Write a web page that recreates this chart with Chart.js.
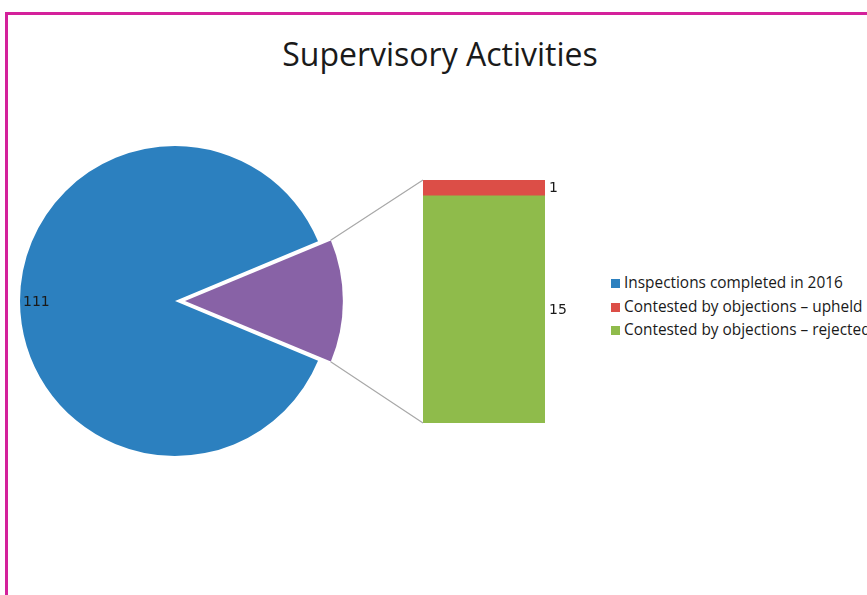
<!DOCTYPE html>
<html>
<head>
<meta charset="utf-8">
<script src="https://cdn.jsdelivr.net/npm/chart.js@4.4.1/dist/chart.umd.min.js"></script>
<style>
  html, body { margin: 0; padding: 0; background: #ffffff; width: 867px; height: 595px; overflow: hidden; }
  #frame { position: absolute; left: 5px; top: 12px; width: 900px; height: 620px;
           border-left: 3px solid #d4219b; border-top: 3px solid #d4219b; }
  #title { position: absolute; left: 0; top: 32px; width: 880px; text-align: center;
           font-family: "Open Sans", sans-serif; font-size: 32px; color: #1a1a1a; }
  #pieWrap { position: absolute; left: 0; top: 131px; width: 350px; height: 340px; }
  #barWrap { position: absolute; left: 320px; top: 150px; width: 280px; height: 300px; }
  #legend { position: absolute; left: 611px; top: 271px; font-family: "Open Sans", sans-serif;
            font-size: 15.4px; color: #1a1a1a; }
  #legend div { height: 23.5px; line-height: 23.5px; white-space: nowrap; }
  #legend span { display: inline-block; width: 9px; height: 9px; margin-right: 4px; vertical-align: 0px; }
</style>
</head>
<body>
<div id="frame"></div>
<div id="title"></div>
<div id="pieWrap"><canvas id="pie" width="350" height="340"></canvas></div>
<div id="barWrap"><canvas id="bar" width="280" height="300"></canvas></div>
<div id="legend"></div>
<script>
const chartTitle = "Supervisory Activities";

// Pie: completed inspections and the contested ones (exploded slice)
const pieLabels = ["Inspections completed in 2016", "Contested by objections"];
const pieValues = [111, 16];
const pieColors = ["#2c80bf", "#8862a6"];

// Bar: breakdown of the contested slice
const barLabels = ["Contested by objections – upheld", "Contested by objections – rejected"];
const barValues = [1, 15];
const barColors = ["#dc4e47", "#8fbb4b"];

const labelFont = '14px "DejaVu Sans", sans-serif';
const sliceOffset = 40; // Chart.js moves an arc by offset / 4

document.getElementById("title").textContent = chartTitle;

// Legend entries: first pie slice + the two bar segments
const legendItems = [
  { text: pieLabels[0], color: pieColors[0] },
  { text: barLabels[0], color: barColors[0] },
  { text: barLabels[1], color: barColors[1] }
];
const legendEl = document.getElementById("legend");
legendItems.forEach(it => {
  const row = document.createElement("div");
  const sw = document.createElement("span");
  sw.style.background = it.color;
  row.appendChild(sw);
  row.appendChild(document.createTextNode(it.text));
  legendEl.appendChild(row);
});

const total = pieValues.reduce((a, b) => a + b, 0);
const secondSpan = pieValues[1] / total * 360;
// First slice starts where the second one ends, so the second is centred at 3 o'clock
const startDeg = secondSpan / 2;

const pieLabelPlugin = {
  id: "pieLabel",
  afterDatasetsDraw(chart) {
    const arc = chart.getDatasetMeta(0).data[0];
    const ctx = chart.ctx;
    ctx.save();
    ctx.font = labelFont;
    ctx.fillStyle = "#1a1a1a";
    ctx.textAlign = "left";
    ctx.textBaseline = "middle";
    ctx.fillText(String(pieValues[0]), arc.x - arc.outerRadius + 3, arc.y + 1);
    ctx.restore();
  }
};

const pieChart = new Chart(document.getElementById("pie"), {
  type: "pie",
  data: {
    labels: pieLabels,
    datasets: [{
      data: pieValues,
      backgroundColor: pieColors,
      borderWidth: 0,
      offset: [0, sliceOffset]
    }]
  },
  options: {
    responsive: false,
    animation: false,
    rotation: startDeg + 90,
    radius: 155,
    layout: { padding: 0 },
    plugins: { legend: { display: false }, tooltip: { enabled: false } }
  },
  plugins: [pieLabelPlugin]
});

// Connector lines from the exploded slice to the bar, plus segment value labels
const barDecorPlugin = {
  id: "barDecor",
  afterDatasetsDraw(chart) {
    const ctx = chart.ctx;
    const top = chart.getDatasetMeta(0).data[0];
    const bottomEl = chart.getDatasetMeta(1).data[0];
    const arc = pieChart.getDatasetMeta(0).data[1];
    const pr = pieChart.canvas.getBoundingClientRect();
    const br = chart.canvas.getBoundingClientRect();
    const dx = pr.left - br.left, dy = pr.top - br.top;
    const mid = (arc.startAngle + arc.endAngle) / 2;
    const shift = sliceOffset / 4;
    const fix = 1 - Math.sin(Math.min(Math.PI, arc.circumference));
    const cx = arc.x + Math.cos(mid) * shift + dx;
    const cy = arc.y + Math.sin(mid) * shift + dy;
    const r = arc.outerRadius + shift * fix;
    const p1 = [cx + Math.cos(arc.startAngle) * r, cy + Math.sin(arc.startAngle) * r];
    const p2 = [cx + Math.cos(arc.endAngle) * r, cy + Math.sin(arc.endAngle) * r];
    const left = top.x - top.width / 2;
    const right = top.x + top.width / 2;
    const barTop = Math.min(top.y, top.base, bottomEl.y, bottomEl.base);
    const barBottom = Math.max(top.y, top.base, bottomEl.y, bottomEl.base);
    ctx.save();
    ctx.strokeStyle = "#a8a8a8";
    ctx.lineWidth = 1.2;
    ctx.beginPath();
    ctx.moveTo(p1[0], p1[1]); ctx.lineTo(left, barTop);
    ctx.moveTo(p2[0], p2[1]); ctx.lineTo(left, barBottom);
    ctx.stroke();
    ctx.font = labelFont;
    ctx.fillStyle = "#1a1a1a";
    ctx.textAlign = "left";
    ctx.textBaseline = "middle";
    [0, 1].forEach(i => {
      const el = chart.getDatasetMeta(i).data[0];
      ctx.fillText(String(barValues[i]), right + 4, (el.y + el.base) / 2 + 1);
    });
    ctx.restore();
  }
};

new Chart(document.getElementById("bar"), {
  type: "bar",
  data: {
    labels: [""],
    datasets: [
      { label: barLabels[0], data: [barValues[0]], backgroundColor: barColors[0], borderWidth: 0 },
      { label: barLabels[1], data: [barValues[1]], backgroundColor: barColors[1], borderWidth: 0 }
    ]
  },
  options: {
    responsive: false,
    animation: false,
    barPercentage: 1,
    categoryPercentage: 1,
    layout: { padding: { left: 103, right: 55, top: 30, bottom: 27 } },
    scales: {
      x: { stacked: true, display: false },
      y: { stacked: true, display: false, min: 0, max: 16, reverse: true }
    },
    plugins: { legend: { display: false }, tooltip: { enabled: false } }
  },
  plugins: [barDecorPlugin]
});
</script>
</body>
</html>
